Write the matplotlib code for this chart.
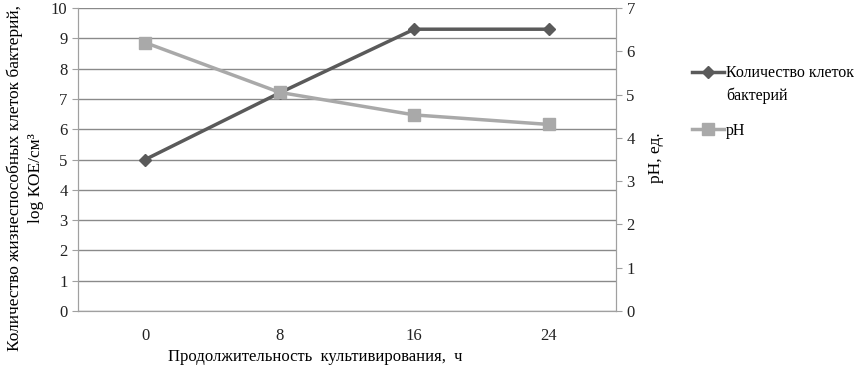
import matplotlib.pyplot as plt

plt.rcParams['font.family'] = ['Liberation Serif', 'DejaVu Serif']

# data
hours = ["0", "8", "16", "24"]
bacteria_log = [5.0, 7.2, 9.3, 9.3]
ph_values = [6.2, 5.05, 4.53, 4.31]

W, H = 856, 372
fig = plt.figure(figsize=(W / 100, H / 100), dpi=100)
ax = fig.add_axes([78 / W, 1 - 311 / H, (616 - 78) / W, (311 - 8) / H])
ax2 = ax.twinx()

x = range(len(hours))
dark = "#5a5a5a"
light = "#a9a9a9"

l1, = ax.plot(x, bacteria_log, color=dark, lw=2.5, marker="D", ms=6,
              label="Количество клеток")
l2, = ax2.plot(x, ph_values, color=light, lw=2.5, marker="s", ms=8,
               label="pH")

ax.set_xlim(-0.5, len(hours) - 0.5)
ax.set_ylim(0, 10)
ax.set_yticks(range(0, 11))
ax2.set_ylim(0, 7)
ax2.set_yticks(range(0, 8))
ax.set_xticks(list(x))
ax.set_xticklabels(hours)

ax.grid(axis="y", color="#8a8a8a", lw=1)
ax.set_axisbelow(True)
for a in (ax, ax2):
    a.spines["top"].set_visible(False)
    for s in ("left", "right", "bottom"):
        a.spines[s].set_color("#a0a0a0")
    a.tick_params(labelsize=12, colors="#a0a0a0", labelcolor="#222222", length=4)
ax.tick_params(axis="x", length=0, pad=12)
ax2.set_zorder(ax.get_zorder() + 1)
ax2.patch.set_visible(False)

fig.text(25 / W, 1 - 178 / H,
         "Количество жизнеспособных клеток бактерий,\nlog КОЕ/см³",
         fontsize=12.5, rotation=90, ha="center", va="center",
         multialignment="center", linespacing=1.4)
fig.text(656 / W, 1 - 158 / H, "pH, ед.", fontsize=12.5, rotation=90,
         ha="center", va="center")
fig.text(315 / W, 1 - 357 / H, "Продолжительность  культивирования,  ч",
         fontsize=12, ha="center", va="center")

leg = fig.legend(handles=[l1, l2], loc="upper left",
                 bbox_to_anchor=(686 / W, 1 - 59 / H),
                 frameon=False, fontsize=11.5, handlelength=2.0,
                 handletextpad=0.1, labelspacing=2.6, borderaxespad=0)

# second line of the first legend label, placed under the first line
fig.canvas.draw()
bb = leg.get_texts()[0].get_window_extent()
fig.text(bb.x0 / W, (bb.y0 - 6) / H, "бактерий", fontsize=11.5,
         ha="left", va="top")

fig.savefig("out.png", dpi=100)
